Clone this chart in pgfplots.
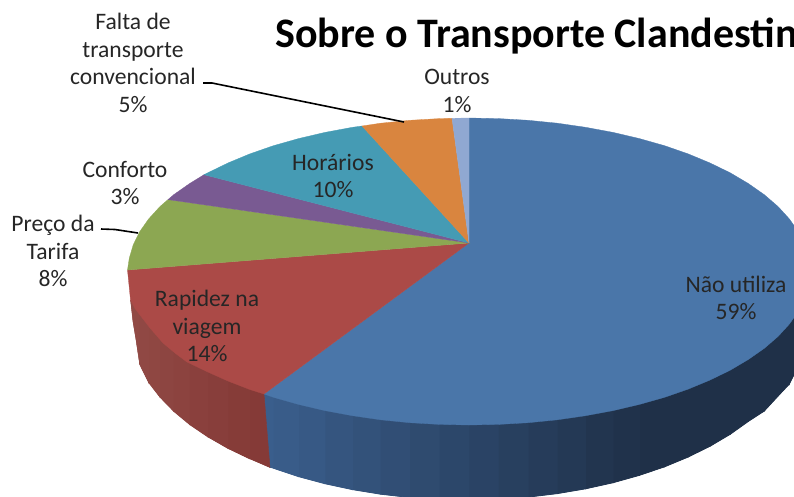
\documentclass[border=0pt]{standalone}
\usepackage{pgfplots}
\pgfplotsset{compat=1.18}
\usepackage{fontspec}
\setmainfont{Carlito}
\definecolor{cNao}{HTML}{4A76A9}
\definecolor{cRap}{HTML}{AB4A47}
\definecolor{cPre}{HTML}{8CA752}
\definecolor{cCon}{HTML}{795A92}
\definecolor{cHor}{HTML}{459BB4}
\definecolor{cFal}{HTML}{D9853F}
\definecolor{cOut}{HTML}{90A8D2}
\definecolor{sa}{HTML}{3A5E8C}
\definecolor{sb}{HTML}{1F3048}
\definecolor{ra}{HTML}{914A45}
\definecolor{rb}{HTML}{853A37}
\definecolor{lab}{HTML}{262626}
\newcommand\st[7]{\addplot[no markers,fill=#1,draw=#1,line width=.8pt] coordinates {(#2,#3)(#2,#4)(#5,#6)(#5,#7)} --cycle;}
\newcommand\lbl[3]{\node[text=lab,align=center,font=\fontsize{23.6}{27.7}\selectfont,inner sep=0pt] at (axis cs:#1,#2) {#3};}
\begin{document}
\begin{tikzpicture}
\useasboundingbox (0,0) rectangle (794pt,496pt);
\clip (0,0) rectangle (794pt,496pt);
\begin{axis}[at={(0,0)},anchor=south west,scale only axis,width=794pt,height=496pt,
  xmin=0,xmax=794,ymin=0,ymax=496,y dir=reverse,hide axis]
% base of the side
\addplot[no markers,fill=sb!60!sa,draw=none] coordinates {(798.4,311.2)(798.4,366)(789.4,384)(778.1,396)(764.3,411)(748.3,421.4)(730.2,434.3)(710.1,446.2)(688.2,457)(664.6,466.8)(639.5,475.3)(613.1,482.7)(585.6,488.8)(557.3,493.6)(528.2,497.1)(498.7,499.2)(469,500)(439.3,499.4)(409.8,497.5)(380.7,494.2)(352.4,489.6)(324.9,483.7)(298.5,476.6)(273.4,468.2)(270,467.5)(264,394)} --cycle;
\addplot[no markers,fill=rb,draw=none] coordinates {(264,394)(270,467.5)(249.8,458.8)(227.9,448.3)(207.8,436.8)(189.7,424.5)(173.7,411.2)(159.9,397)(148.6,382.3)(139.6,364)(136,340)(133,322)(130.5,300)} --cycle;
% side of the pie: blue
\st{sb}{798.4}{311.2}{366}{789.4}{384}{324}
\st{sb}{789.4}{324}{384}{778.1}{396}{336.4}
\st{sb}{778.1}{336.4}{396}{764.3}{411}{348.3}
\st{sb}{764.3}{348.3}{411}{748.3}{421.4}{359.5}
\st{sb}{748.3}{359.5}{421.4}{730.2}{434.3}{370.2}
\st{sb}{730.2}{370.2}{434.3}{710.1}{446.2}{380}
\st{sb}{710.1}{380}{446.2}{688.2}{457}{389.1}
\st{sb}{688.2}{389.1}{457}{664.6}{466.8}{397.3}
\st{sb}{664.6}{397.3}{466.8}{639.5}{475.3}{404.4}
\st{sa!4!sb}{639.5}{404.4}{475.3}{613.1}{482.7}{410.6}
\st{sa!11!sb}{613.1}{410.6}{482.7}{585.6}{488.8}{415.7}
\st{sa!19!sb}{585.6}{415.7}{488.8}{557.3}{493.6}{419.8}
\st{sa!26!sb}{557.3}{419.8}{493.6}{528.2}{497.1}{422.7}
\st{sa!34!sb}{528.2}{422.7}{497.1}{498.7}{499.2}{424.4}
\st{sa!42!sb}{498.7}{424.4}{499.2}{469}{500}{425}
\st{sa!50!sb}{469}{425}{500}{439.3}{499.4}{424.4}
\st{sa!58!sb}{439.3}{424.4}{499.4}{409.8}{497.5}{422.7}
\st{sa!66!sb}{409.8}{422.7}{497.5}{380.7}{494.2}{419.8}
\st{sa!74!sb}{380.7}{419.8}{494.2}{352.4}{489.6}{415.7}
\st{sa!81!sb}{352.4}{415.7}{489.6}{324.9}{483.7}{410.6}
\st{sa!89!sb}{324.9}{410.6}{483.7}{298.5}{476.6}{404.4}
\st{sa!96!sb}{298.5}{404.4}{476.6}{273.4}{468.2}{397.3}
\addplot[no markers,fill=sa,draw=sa,line width=.4pt] coordinates {(273.4,397.3)(273.4,468.2)(270,467.5)(264,394)} --cycle;
% side of the pie: red
\addplot[no markers,fill=rb,draw=rb,line width=.4pt] coordinates {(264,394)(270,467.5)(249.8,458.8)(249.8,389.1)} --cycle;
\st{ra!10!rb}{249.8}{389.1}{458.8}{227.9}{448.3}{380}
\st{ra!25!rb}{227.9}{380}{448.3}{207.8}{436.8}{370.2}
\st{ra!40!rb}{207.8}{370.2}{436.8}{189.7}{424.5}{359.5}
\st{ra!55!rb}{189.7}{359.5}{424.5}{173.7}{411.2}{348.3}
\st{ra!70!rb}{173.7}{348.3}{411.2}{159.9}{397}{336.4}
\st{ra!80!rb}{159.9}{336.4}{397}{148.6}{382.3}{324}
\st{ra!90!rb}{148.6}{324}{382.3}{139.6}{364}{311.2}
\addplot[no markers,fill=ra,draw=ra,line width=.3pt] coordinates {(139.6,311.2)(139.6,364)(136,340)(133,322)(130.5,300)} --cycle;
% top face
\addplot[no markers,fill=cNao,draw=cNao,line width=.3pt] coordinates {(469,243)(469,118)(498.7,118.6)(528.2,120.3)(557.3,123.2)(585.6,127.3)(613.1,132.4)(639.5,138.6)(664.6,145.7)(688.2,153.9)(710.1,163)(730.2,172.8)(748.3,183.5)(764.3,194.7)(778.1,206.6)(789.4,219)(798.4,231.8)(804.8,244.9)(808.7,258.1)(810,271.5)(808.7,284.9)(804.8,298.1)(798.4,311.2)(789.4,324)(778.1,336.4)(764.3,348.3)(748.3,359.5)(730.2,370.2)(710.1,380)(688.2,389.1)(664.6,397.3)(639.5,404.4)(613.1,410.6)(585.6,415.7)(557.3,419.8)(528.2,422.7)(498.7,424.4)(469,425)(439.3,424.4)(409.8,422.7)(380.7,419.8)(352.4,415.7)(324.9,410.6)(298.5,404.4)(273.4,397.3)(264,394)} --cycle;
\addplot[no markers,fill=cRap,draw=cRap,line width=.3pt] coordinates {(469,243)(264,394)(249.8,389.5)(227.9,381)(207.8,372)(187,362)(175,353)(163,343)(150,328)(140,315)(135,308.5)(130.5,300)(129,285)(127.5,270)} --cycle;
\addplot[no markers,fill=cPre,draw=cPre,line width=.3pt] coordinates {(469,243)(127.5,270)(129.3,258.1)(133.2,244.9)(139.6,231.8)(148.6,219)(159.9,206.6)(168,199.6)} --cycle;
\addplot[no markers,fill=cCon,draw=cCon,line width=.3pt] coordinates {(469,243)(168,199.6)(173.7,194.7)(189.7,183.5)(204,174.7)} --cycle;
\addplot[no markers,fill=cHor,draw=cHor,line width=.3pt] coordinates {(469,243)(204,174.7)(207.8,172.8)(227.9,163)(249.8,153.9)(273.4,145.7)(298.5,138.6)(324.9,132.4)(352.4,127.3)(362,126)} --cycle;
\addplot[no markers,fill=cFal,draw=cFal,line width=.3pt] coordinates {(469,243)(362,126)(380.7,123.2)(409.8,120.3)(439.3,118.6)(452,118.3)} --cycle;
\addplot[no markers,fill=cOut,draw=cOut,line width=.3pt] coordinates {(469,243)(452,118.3)(469,118)} --cycle;
% leader lines
\addplot[no markers,black,line width=1.6pt] coordinates {(203,83)(212,83)(404,122)};
\addplot[no markers,black,line width=1.6pt] coordinates {(101,229)(115,229.5)(138,233)};
% labels
\node[anchor=base west,font=\fontsize{42}{42}\selectfont\bfseries,inner sep=0pt] at (axis cs:275,47.5) {Sobre o Transporte Clandestino};
\lbl{133}{63}{Falta de\\transporte\\convencional\\5\%}
\lbl{457}{91}{Outros\\1\%}
\lbl{333}{176}{Horários\\10\%}
\lbl{125}{183}{Conforto\\3\%}
\lbl{53}{251}{Preço da\\Tarifa\\8\%}
\lbl{207}{326}{Rapidez na\\viagem\\14\%}
\lbl{736}{298}{Não utiliza\\59\%}
\end{axis}
\end{tikzpicture}
\end{document}
